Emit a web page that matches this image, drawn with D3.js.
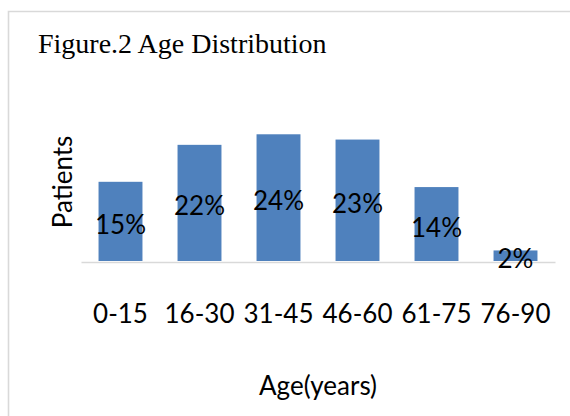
<!DOCTYPE html>
<html>
<head>
<meta charset="utf-8">
<script src="https://cdn.jsdelivr.net/npm/d3@7"></script>
<style>
  html, body { margin: 0; padding: 0; background: #fff; }
  svg { display: block; }
</style>
</head>
<body>
<svg id="chart" width="570" height="416"></svg>
<script>
// Age groups and share of patients (%)
const ageGroups = ["0-15", "16-30", "31-45", "46-60", "61-75", "76-90"];
const patientShare = [15, 22, 24, 23, 14, 2];
const titleText = "Figure.2 Age Distribution";
const xTitle = "Age(years)";
const yTitle = "Patients";

const svg = d3.select("#chart");
const W = 570, H = 416;
const sans = "Lato, 'Open Sans', sans-serif";

// outer frame (open on the right and bottom edges)
svg.append("path")
  .attr("d", `M8.5,${H + 2}V11.5H${W + 2}`)
  .attr("fill", "none")
  .attr("stroke", "#d9d9d9")
  .attr("stroke-width", 1.6);

// chart title
svg.append("text")
  .attr("x", 38).attr("y", 53)
  .attr("font-family", "'Liberation Serif', 'Times New Roman', serif")
  .attr("font-size", 28)
  .attr("fill", "#000")
  .text(titleText);

const plot = { left: 81, right: 555, bottom: 261, top: 129 };

const x = d3.scaleBand()
  .domain(ageGroups)
  .range([plot.left, plot.right])
  .paddingInner(0.444)
  .paddingOuter(0.222);

const y = d3.scaleLinear()
  .domain([0, 25])
  .range([plot.bottom, plot.top]);

const data = ageGroups.map((g, i) => ({ group: g, value: patientShare[i] }));

// bars
svg.append("g").selectAll("rect")
  .data(data)
  .join("rect")
  .attr("x", d => x(d.group))
  .attr("y", d => y(d.value))
  .attr("width", x.bandwidth())
  .attr("height", d => y(0) - y(d.value))
  .attr("fill", "#4f81bd");

// category axis: baseline line, no ticks
const xAxis = d3.axisBottom(x).tickSize(0).tickPadding(0);
const gx = svg.append("g")
  .attr("transform", `translate(0,${plot.bottom + 1})`)
  .call(xAxis);
gx.select(".domain").attr("stroke", "#d9d9d9").attr("stroke-width", 1.5);
gx.selectAll(".tick text")
  .attr("y", 61)
  .attr("dy", 0)
  .attr("font-family", sans)
  .attr("font-size", 26)
  .attr("fill", "#000");

// value labels centred in each bar
svg.append("g").selectAll("text")
  .data(data)
  .join("text")
  .attr("x", d => x(d.group) + x.bandwidth() / 2)
  .attr("y", d => (y(d.value) + y(0)) / 2 + 12.5)
  .attr("text-anchor", "middle")
  .attr("font-family", sans)
  .attr("font-size", 26)
  .attr("fill", "#000")
  .text(d => d.value + "%");

// axis titles
svg.append("text")
  .attr("x", (plot.left + plot.right) / 2)
  .attr("y", 395)
  .attr("text-anchor", "middle")
  .attr("font-family", sans)
  .attr("font-size", 26)
  .attr("fill", "#000")
  .text(xTitle);

svg.append("text")
  .attr("transform", "translate(72,182) rotate(-90)")
  .attr("text-anchor", "middle")
  .attr("font-family", sans)
  .attr("font-size", 26)
  .attr("fill", "#000")
  .text(yTitle);
</script>
</body>
</html>
